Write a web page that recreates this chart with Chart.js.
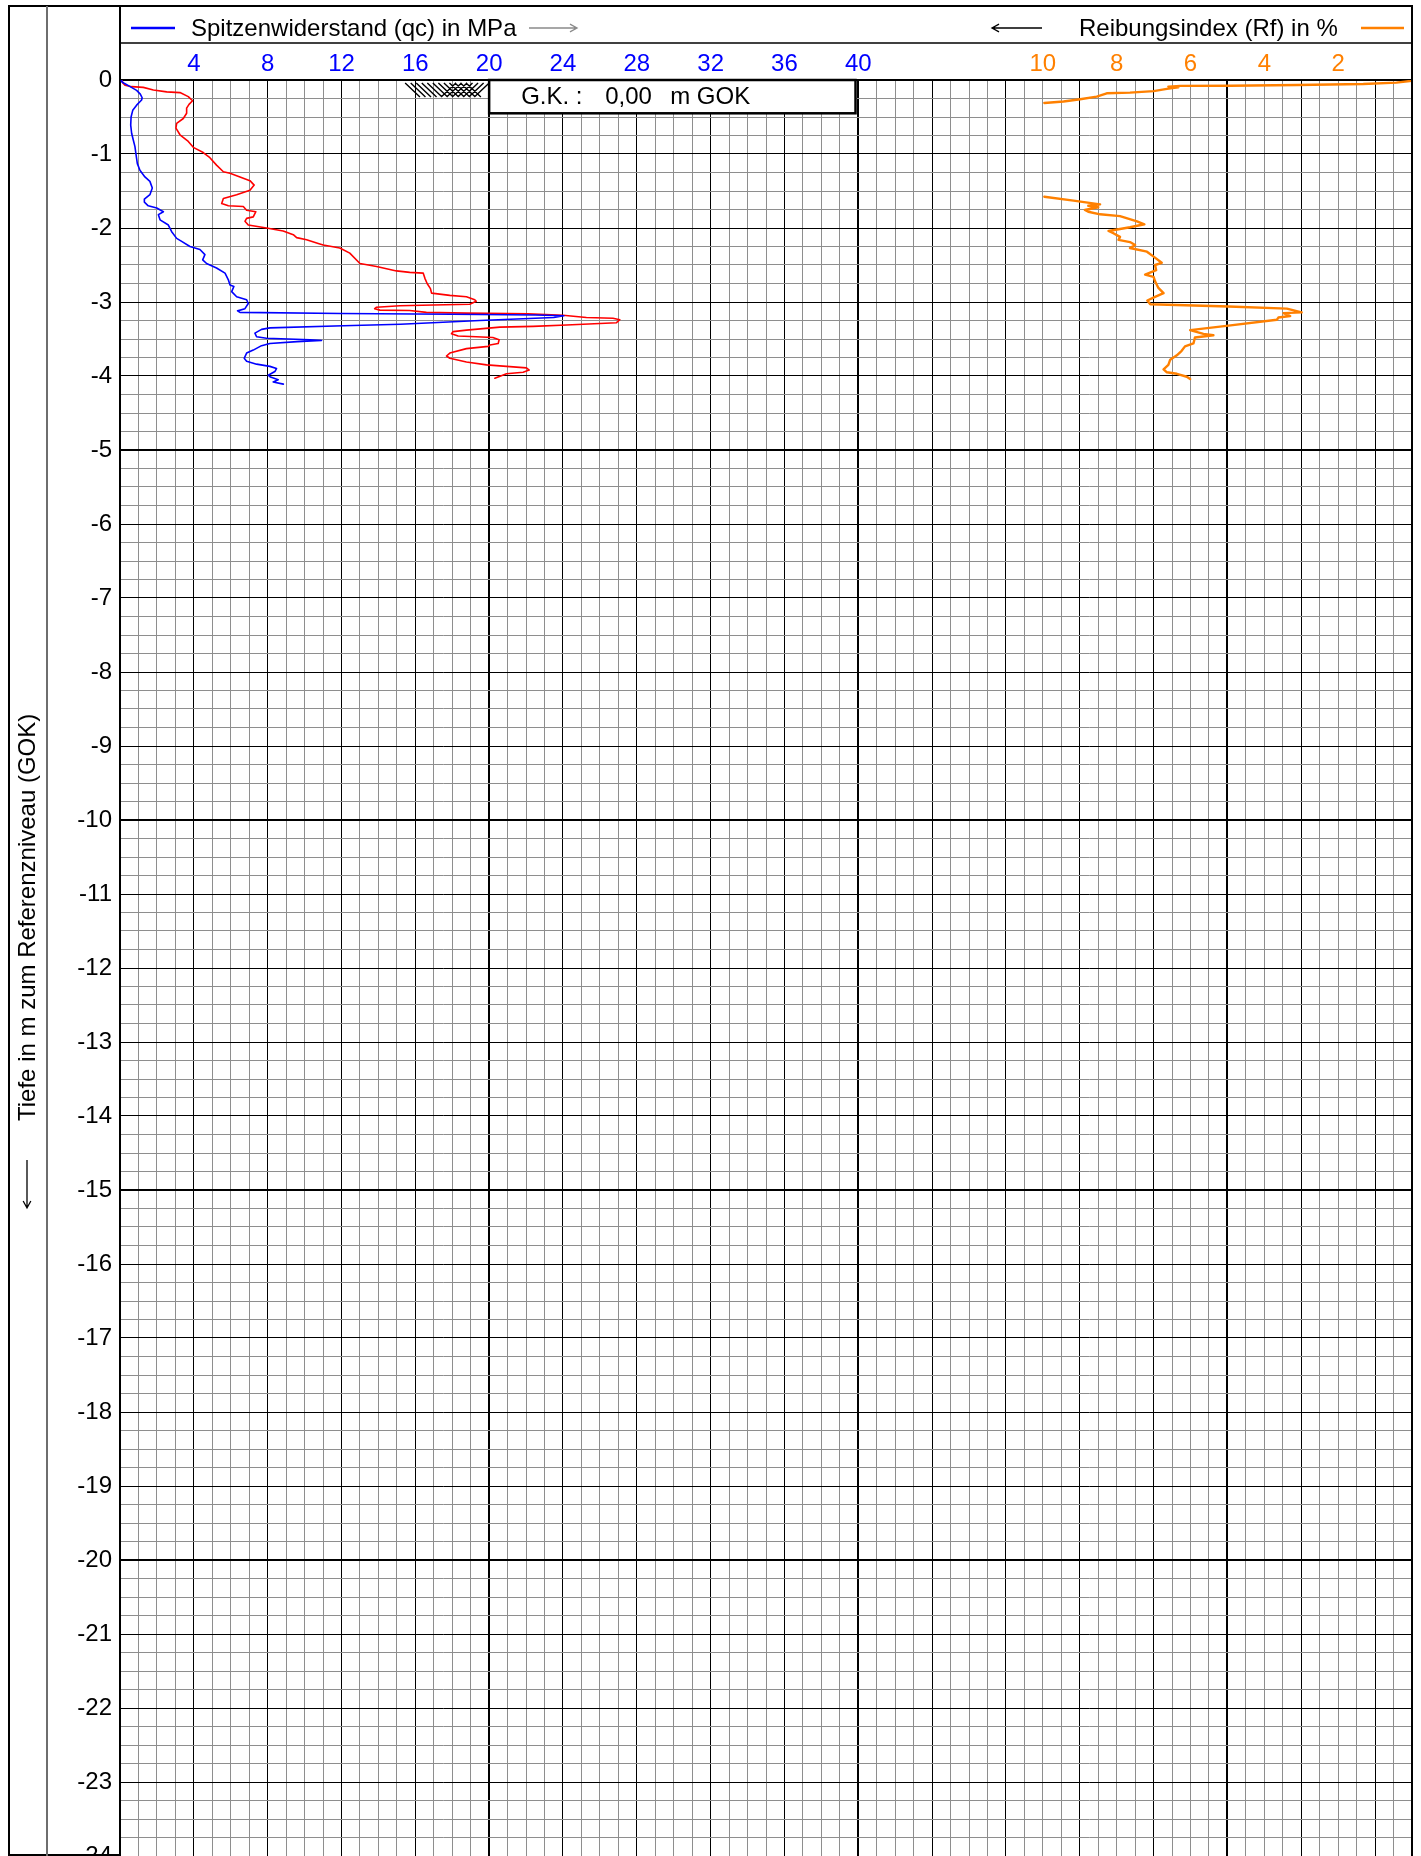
<!DOCTYPE html>
<html lang="de">
<head>
<meta charset="utf-8">
<title>Drucksondierung – Spitzenwiderstand und Reibungsindex</title>
<script src="https://cdn.jsdelivr.net/npm/chart.js@4/dist/chart.umd.min.js"></script>
<style>
  html, body { margin: 0; padding: 0; background: #fff; }
  #sheet { position: relative; width: 1421px; height: 1856px; overflow: hidden; }
  canvas { display: block; }
</style>
</head>
<body>
<div id="sheet"><canvas id="cpt" width="1421" height="1900"></canvas></div>
<script>
// ---- Messwerte (Tiefe in m unter GOK) ----
// Spitzenwiderstand qc in MPa
const qcDepth = [0.00, 0.02, 0.04, 0.09, 0.14, 0.19, 0.24, 0.27, 0.34, 0.41, 0.50, 0.61, 0.72, 0.81, 0.90,
  1.01, 1.13, 1.22, 1.31, 1.37, 1.46, 1.55, 1.61, 1.65, 1.70, 1.73, 1.78, 1.82, 1.89, 1.96,
  2.05, 2.14, 2.18, 2.25, 2.29, 2.36, 2.43, 2.48, 2.54, 2.61, 2.70, 2.77, 2.79, 2.86, 2.93,
  2.97, 3.02, 3.09, 3.12, 3.14, 3.155, 3.165, 3.175, 3.185, 3.21, 3.25, 3.30, 3.32, 3.35,
  3.37, 3.42, 3.47, 3.49, 3.51, 3.52, 3.535, 3.56, 3.59, 3.65, 3.69, 3.76, 3.80, 3.84, 3.87,
  3.90, 3.94, 3.99, 4.01, 4.05, 4.08, 4.11];
const qcValue = [0.10, 0.08, 0.20, 0.55, 0.90, 1.10, 1.20, 1.17, 0.90, 0.69, 0.60, 0.58, 0.63, 0.72, 0.81,
  0.87, 0.94, 1.08, 1.35, 1.62, 1.75, 1.62, 1.32, 1.32, 1.53, 1.99, 2.35, 2.08, 2.17, 2.62,
  2.80, 3.07, 3.34, 3.79, 4.33, 4.60, 4.48, 4.69, 5.23, 5.69, 5.87, 5.96, 6.17, 6.05, 6.32,
  6.86, 6.95, 6.77, 6.37, 6.50, 12.0, 18.0, 22.5, 24.05, 23.5, 19.5, 15.2, 12.1, 8.12,
  7.67, 7.31, 7.40, 7.94, 10.29, 10.92, 9.60, 8.12, 7.67, 7.22, 6.86, 6.73, 6.86, 7.40, 8.12,
  8.48, 8.39, 8.03, 8.12, 8.57, 8.30, 8.85];

// Mantelreibung, im Maßstab der qc-Achse aufgetragen
const fsDepth = [0.00, 0.04, 0.07, 0.09, 0.10, 0.135, 0.16, 0.17, 0.225, 0.28, 0.33, 0.38, 0.45, 0.52, 0.585,
  0.65, 0.74, 0.83, 0.91, 0.98, 1.05, 1.15, 1.24, 1.26, 1.31, 1.36, 1.42, 1.49, 1.55, 1.60,
  1.67, 1.70, 1.71, 1.76, 1.78, 1.85, 1.87, 1.91, 1.96, 2.00, 2.04, 2.09, 2.13, 2.16, 2.21,
  2.23, 2.27, 2.34, 2.48, 2.52, 2.58, 2.60, 2.61, 2.68, 2.75, 2.82, 2.88, 2.91, 2.93, 2.97,
  2.99, 3.03, 3.04, 3.05, 3.07, 3.09, 3.11, 3.115, 3.14, 3.15, 3.16, 3.18, 3.21, 3.22, 3.24,
  3.28, 3.31, 3.33, 3.34, 3.38, 3.40, 3.43, 3.46, 3.47, 3.48, 3.51, 3.56, 3.58, 3.60, 3.63,
  3.69, 3.73, 3.76, 3.81, 3.85, 3.87, 3.89, 3.92, 3.95, 3.97, 4.03];
const fsValue = [0.10, 0.15, 0.27, 0.63, 1.26, 1.81, 2.53, 3.25, 3.70, 3.93, 3.74, 3.61, 3.61, 3.43, 3.07,
  3.03, 3.25, 3.70, 3.97, 4.51, 4.87, 5.23, 5.60, 5.96, 6.50, 7.04, 7.27, 7.04, 6.32, 5.60,
  5.51, 5.87, 6.68, 6.86, 7.36, 7.22, 6.86, 6.77, 6.95, 7.94, 8.84, 9.39, 9.57, 10.11, 10.74,
  11.01, 11.91, 12.45, 13.00, 13.90, 14.98, 15.70, 16.43, 16.52, 16.64, 16.82, 16.88, 17.87, 18.77, 19.22,
  19.30, 18.95, 16.97, 15.16, 13.90, 13.80, 14.08, 15.70, 16.60, 18.77, 22.10, 24.00, 25.27, 26.71, 27.08,
  26.90, 24.19, 22.38, 20.58, 18.77, 18.05, 17.96, 18.32, 19.30, 20.20, 20.54, 20.49, 20.04, 19.95, 18.77,
  17.87, 17.69, 17.87, 18.77, 19.86, 20.94, 22.02, 22.17, 21.84, 20.94, 20.31];

// Reibungsindex Rf in % (null = außerhalb des Darstellungsbereichs)
const rfDepth = [0.01, 0.036, 0.054, 0.068, 0.077, 0.08, 0.09, 0.10, 0.12, 0.15, 0.17, 0.18, 0.225, 0.26, 0.29, 0.31,
  0.90,
  1.577, 1.63, 1.68, 1.70, 1.72, 1.757, 1.78, 1.815, 1.84, 1.91, 1.95, 1.99, 2.04, 2.07, 2.12,
  2.16, 2.19, 2.23, 2.27, 2.32, 2.39, 2.47, 2.50, 2.57, 2.63, 2.66, 2.72, 2.81, 2.88, 2.93,
  2.98, 3.03, 3.06, 3.09, 3.14, 3.15, 3.19, 3.21, 3.24, 3.32, 3.38, 3.43, 3.45, 3.48, 3.56,
  3.60, 3.66, 3.72, 3.78, 3.85, 3.91, 3.95, 3.97, 4.01, 4.04];
const rfValue = [0.00, 0.42, 1.32, 3.12, 4.93, 6.28, 6.60, 6.33, 6.64, 7.00, 7.64, 8.27, 8.54, 8.99, 9.44, 9.96,
  null,
  9.96, 9.17, 8.45, 8.77, 8.50, 8.86, 8.77, 8.45, 7.91, 7.45, 7.25, 7.64, 8.22, 8.09, 7.91,
  7.95, 7.64, 7.50, 7.64, 7.18, 6.99, 6.78, 6.96, 6.93, 7.23, 7.00, 6.96, 6.87, 6.73, 6.96,
  7.17, 7.09, 4.97, 3.39, 2.99, 3.48, 3.30, 3.62, 3.66, 4.97, 6.01, 5.65, 5.38, 5.88, 5.92,
  6.15, 6.24, 6.37, 6.55, 6.60, 6.73, 6.64, 6.37, 6.10, 6.01];

// Achsbeschriftungen
const qcTickLabels = [4, 8, 12, 16, 20, 24, 28, 32, 36, 40];
const rfTickLabels = [10, 8, 6, 4, 2];
const depthTickLabels = Array.from({ length: 25 }, (_, k) => -k);

// ---- Darstellung ----
const QC_MAX = 70;     // Breite des Diagramms in MPa
const RF_MAX = 35;     // dieselbe Breite in %, von rechts gezählt
const DEPTH_MAX = 24;
const BLUE = '#0000ff', RED = '#ff0000', ORANGE = '#ff8000';
const FONT = "'Liberation Sans', Arial, sans-serif";

// Rahmen links und Kopfzeile (Pixel)
const FRAME = { left: 9, top: 6, column: 47, titleLine: 43, yTitleX: 27 };
// Schraffur am Ansatzpunkt und Kasten mit der Geländehöhe (in Achseinheiten)
const HATCH = { qcFrom: 15.45, qcTo: 18.9, step: 0.3, width: 0.8, dTop: 0.04, dBottom: 0.23 };
const GK_BOX = { qcFrom: 20, qcTo: 39.85, dBottom: 0.45 };

const toPoints = (depths, values) =>
  depths.map((d, i) => values[i] === null ? { x: null, y: null } : { x: values[i], y: -d });

function gridStyle(v, majorStep, heavyStep) {
  const r = Math.round(v * 1000) / 1000;
  if (r % heavyStep === 0) return { color: '#000', width: 2 };
  if (r % majorStep === 0) return { color: '#000', width: 1 };
  return { color: '#8e8e8e', width: 1 };
}

function arrow(ctx, x1, y1, x2, y2, color) {
  const ang = Math.atan2(y2 - y1, x2 - x1), h = 8, w = 0.5;
  ctx.save();
  ctx.strokeStyle = color;
  ctx.lineWidth = 1.3;
  ctx.beginPath();
  ctx.moveTo(x1, y1); ctx.lineTo(x2, y2);
  ctx.moveTo(x2 - h * Math.cos(ang - w), y2 - h * Math.sin(ang - w));
  ctx.lineTo(x2, y2);
  ctx.lineTo(x2 - h * Math.cos(ang + w), y2 - h * Math.sin(ang + w));
  ctx.stroke();
  ctx.restore();
}

const sheetPlugin = {
  id: 'sheet',
  beforeDatasetsDraw(chart) {
    const { ctx, scales: { x, y } } = chart;
    ctx.save();
    // Schraffur
    ctx.strokeStyle = '#000';
    ctx.lineWidth = 1.4;
    const yt = y.getPixelForValue(-HATCH.dTop), yb = y.getPixelForValue(-HATCH.dBottom);
    ctx.beginPath();
    for (let q = HATCH.qcFrom; q <= HATCH.qcTo + 1e-6; q += HATCH.step) {
      ctx.moveTo(x.getPixelForValue(q), yt);
      ctx.lineTo(x.getPixelForValue(q + HATCH.width), yb);
    }
    for (let q = 17.4; q <= 19.2 + 1e-6; q += HATCH.step) {
      ctx.moveTo(x.getPixelForValue(q + HATCH.width), yt);
      ctx.lineTo(x.getPixelForValue(q), yb);
    }
    ctx.stroke();
    // Kasten G.K.
    const bx1 = x.getPixelForValue(GK_BOX.qcFrom), bx2 = x.getPixelForValue(GK_BOX.qcTo);
    const by1 = y.getPixelForValue(0), by2 = y.getPixelForValue(-GK_BOX.dBottom);
    ctx.fillStyle = '#fff';
    ctx.fillRect(bx1, by1, bx2 - bx1, by2 - by1);
    ctx.lineWidth = 2.5;
    ctx.strokeRect(bx1, by1, bx2 - bx1, by2 - by1);
    ctx.fillStyle = '#000';
    ctx.font = `24px ${FONT}`;
    ctx.textBaseline = 'middle';
    const ty = (by1 + by2) / 2 + 1;
    ctx.fillText('G.K. :', bx1 + 32, ty);
    ctx.fillText('0,00', bx1 + 116, ty);
    ctx.fillText('m GOK', bx1 + 181, ty);
    ctx.restore();
  },
  afterDraw(chart) {
    const { ctx, chartArea: a } = chart;
    ctx.save();
    ctx.strokeStyle = '#000';
    // äußerer Rahmen
    ctx.lineWidth = 2;
    ctx.beginPath();
    ctx.moveTo(FRAME.left, a.bottom); ctx.lineTo(FRAME.left, FRAME.top);
    ctx.lineTo(a.right, FRAME.top); ctx.lineTo(a.right, a.bottom);
    ctx.moveTo(FRAME.left, a.bottom - 1); ctx.lineTo(a.left, a.bottom - 1);
    ctx.moveTo(a.left, FRAME.top); ctx.lineTo(a.left, a.top);
    ctx.stroke();
    // Spaltenlinie für den Achstitel
    ctx.strokeStyle = '#6e6e6e';
    ctx.beginPath();
    ctx.moveTo(FRAME.column, FRAME.top); ctx.lineTo(FRAME.column, a.bottom);
    ctx.stroke();
    // Trennlinie unter der Kopfzeile
    ctx.strokeStyle = '#000';
    ctx.lineWidth = 1.3;
    ctx.beginPath();
    ctx.moveTo(a.left, FRAME.titleLine); ctx.lineTo(a.right, FRAME.titleLine);
    ctx.stroke();

    // Kopfzeile: Legende
    const ly = 28;
    ctx.lineWidth = 2.5;
    ctx.strokeStyle = BLUE;
    ctx.beginPath(); ctx.moveTo(131, ly); ctx.lineTo(175, ly); ctx.stroke();
    ctx.strokeStyle = ORANGE;
    ctx.beginPath(); ctx.moveTo(1361, ly); ctx.lineTo(1404, ly); ctx.stroke();
    ctx.fillStyle = '#000';
    ctx.font = `24px ${FONT}`;
    ctx.textBaseline = 'alphabetic';
    ctx.textAlign = 'left';
    ctx.fillText('Spitzenwiderstand (qc) in MPa', 191, 36);
    ctx.fillText('Reibungsindex (Rf) in %', 1079, 36);
    arrow(ctx, 529, ly, 577, ly, '#8a8a8a');
    arrow(ctx, 1042, ly, 992, ly, '#000');

    // Achstitel links (gedreht)
    ctx.save();
    ctx.translate(FRAME.yTitleX, 1121);
    ctx.rotate(-Math.PI / 2);
    ctx.textBaseline = 'middle';
    ctx.fillText('Tiefe in m zum Referenzniveau (GOK)', 0, 1);
    ctx.restore();
    arrow(ctx, FRAME.yTitleX, 1160, FRAME.yTitleX, 1208, '#000');
    ctx.restore();
  }
};

const xTicks = Array.from({ length: QC_MAX + 1 }, (_, k) => ({ value: k }));
const yTicks = Array.from({ length: DEPTH_MAX * 4 + 1 }, (_, k) => ({ value: -DEPTH_MAX + k * 0.25 }));

new Chart(document.getElementById('cpt'), {
  type: 'scatter',
  data: {
    datasets: [
      { label: 'Spitzenwiderstand (qc) in MPa', data: toPoints(qcDepth, qcValue),
        borderColor: BLUE, borderWidth: 1.6 },
      { label: 'Mantelreibung', data: toPoints(fsDepth, fsValue),
        borderColor: RED, borderWidth: 1.6 },
      { label: 'Reibungsindex (Rf) in %', data: toPoints(rfDepth, rfValue), xAxisID: 'xRf',
        borderColor: ORANGE, borderWidth: 2.4 }
    ].map(ds => Object.assign(ds, {
      showLine: true, pointRadius: 0, pointHoverRadius: 0, tension: 0, fill: false,
      spanGaps: false, borderJoinStyle: 'round', borderCapStyle: 'round'
    }))
  },
  options: {
    responsive: false,
    animation: false,
    devicePixelRatio: 1,
    events: [],
    layout: { padding: { left: 0, top: 0, right: 9, bottom: 44 } },
    plugins: { legend: { display: false }, tooltip: { enabled: false } },
    scales: {
      x: {
        type: 'linear', position: 'top', min: 0, max: QC_MAX,
        afterBuildTicks: s => { s.ticks = xTicks.map(t => ({ ...t })); },
        afterFit: s => { s.height = 80; s.paddingLeft = 0; s.paddingRight = 0; },
        border: { display: true, color: '#000', width: 2 },
        grid: {
          drawTicks: false,
          color: c => gridStyle(c.tick.value, 4, 20).color,
          lineWidth: c => gridStyle(c.tick.value, 4, 20).width
        },
        ticks: {
          autoSkip: false, maxRotation: 0, minRotation: 0, padding: 1,
          font: { family: FONT, size: 24 },
          color: c => (c.tick && c.tick.value > 45) ? ORANGE : BLUE,
          callback(v) {
            if (qcTickLabels.includes(v)) return String(v);
            const rf = (QC_MAX - v) * RF_MAX / QC_MAX;
            return rfTickLabels.includes(rf) ? String(rf) : '';
          }
        }
      },
      xRf: { type: 'linear', position: 'top', min: 0, max: RF_MAX, reverse: true, display: false },
      y: {
        type: 'linear', position: 'left', min: -DEPTH_MAX, max: 0,
        afterBuildTicks: s => { s.ticks = yTicks.map(t => ({ ...t })); },
        afterFit: s => { s.width = 120; s.paddingTop = 0; s.paddingBottom = 0; },
        border: { display: true, color: '#000', width: 2 },
        grid: {
          drawTicks: false,
          color: c => gridStyle(c.tick.value, 1, 5).color,
          lineWidth: c => gridStyle(c.tick.value, 1, 5).width
        },
        ticks: {
          autoSkip: false, padding: 8, color: '#000',
          font: { family: FONT, size: 24 },
          callback: v => depthTickLabels.includes(v) ? String(v) : ''
        }
      }
    }
  },
  plugins: [sheetPlugin]
});
</script>
</body>
</html>
